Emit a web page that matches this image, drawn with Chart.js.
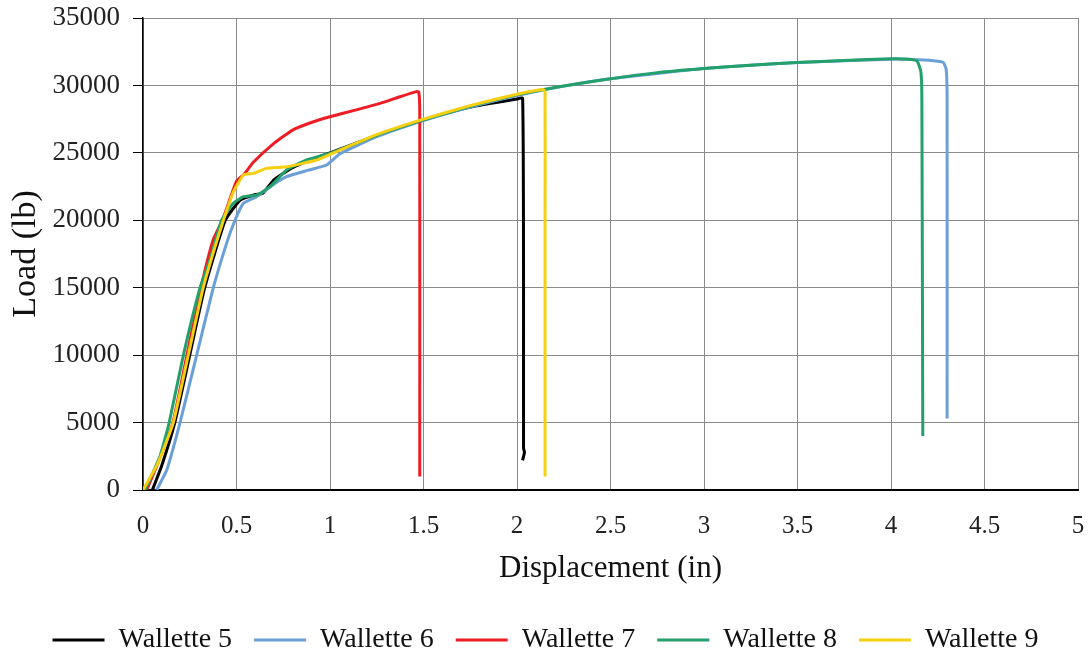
<!DOCTYPE html>
<html lang="en">
<head>
  <meta charset="UTF-8">
  <title>Load vs Displacement</title>
  <script src="https://cdn.jsdelivr.net/npm/chart.js"></script>
  <style>
    html, body { margin: 0; padding: 0; background: #fff; }
    #wrap { width: 1091px; height: 664px; }
  </style>
</head>
<body>
<div id="wrap"><canvas id="grafico" width="1091" height="664"></canvas></div>
<script>
  // series (displacement in, load lb)
  const labels = ['Wallette 5', 'Wallette 6', 'Wallette 7', 'Wallette 8', 'Wallette 9'];

  const w5x = [0.05, 0.1, 0.17, 0.25, 0.33, 0.44, 0.52, 0.6, 0.64, 0.7, 0.8, 0.9, 1.0, 1.25, 1.5, 1.75, 2.0, 2.03, 2.035, 2.035, 2.04, 2.03];
  const w5y = [0, 1800, 5000, 10000, 15000, 20000, 21500, 21900, 22000, 23000, 23900, 24500, 25000, 26300, 27450, 28400, 29000, 29050, 15000, 3100, 2800, 2200];

  const w6x = [0.073, 0.127, 0.198, 0.287, 0.376, 0.447, 0.492, 0.537, 0.607, 0.68, 0.768, 0.88, 0.982, 1.05, 1.25, 1.5, 1.75, 2.0, 2.25, 2.5, 3.0, 3.5, 4.0, 4.15, 4.25, 4.28, 4.295, 4.3, 4.3];
  const w6y = [0, 1480, 5000, 10000, 15000, 18290, 20000, 21260, 21750, 22490, 23230, 23700, 24100, 24900, 26200, 27400, 28400, 29250, 29950, 30500, 31250, 31700, 31950, 31900, 31800, 31700, 31200, 29000, 5300];

  const w7x = [0.02, 0.08, 0.16, 0.235, 0.31, 0.375, 0.425, 0.5, 0.54, 0.59, 0.7, 0.8, 0.9, 1.0, 1.13, 1.267, 1.374, 1.463, 1.475, 1.48, 1.48];
  const w7y = [0, 2000, 5000, 10000, 15000, 18540, 20000, 22900, 23400, 24300, 25700, 26690, 27250, 27680, 28150, 28670, 29160, 29540, 29500, 28000, 1000];

  const w8x = [0.01, 0.09, 0.14, 0.216, 0.305, 0.358, 0.42, 0.483, 0.537, 0.607, 0.68, 0.768, 0.875, 1.0, 1.25, 1.5, 1.75, 2.0, 2.25, 2.5, 2.75, 3.0, 3.25, 3.5, 3.75, 4.0, 4.1, 4.14, 4.16, 4.165, 4.17];
  const w8y = [0, 2470, 5000, 10000, 15000, 17050, 20000, 21260, 21750, 21870, 22490, 23730, 24470, 24970, 26300, 27450, 28450, 29300, 29950, 30500, 30950, 31250, 31500, 31700, 31850, 31980, 31950, 31800, 31000, 29000, 4000];

  const w9x = [0.0, 0.08, 0.162, 0.242, 0.322, 0.38, 0.43, 0.48, 0.537, 0.59, 0.66, 0.768, 0.93, 1.053, 1.25, 1.5, 1.75, 2.0, 2.14, 2.15, 2.15, 2.15];
  const w9y = [0, 2000, 5000, 10000, 15000, 17800, 20000, 22000, 23360, 23480, 23850, 23970, 24470, 25210, 26350, 27500, 28500, 29350, 29700, 29500, 20000, 1000];

  const xTicks = [0, 0.5, 1, 1.5, 2, 2.5, 3, 3.5, 4, 4.5, 5];
  const yTicks = [0, 5000, 10000, 15000, 20000, 25000, 30000, 35000];

  const cores = ['#000000', '#6a9fd8', '#ee1c25', '#23a06c', '#f5cf10'];
  // later series sit on top, as in the original
  const ordem = [4, 3, 2, 1, 0];

  function pontos(xs, ys) {
    return xs.map((x, i) => ({ x: x, y: ys[i] }));
  }

  const series = [pontos(w5x, w5y), pontos(w6x, w6y), pontos(w7x, w7y), pontos(w8x, w8y), pontos(w9x, w9y)];

  const dados = {
    datasets: series.map((s, i) => ({
      label: labels[i],
      data: s,
      borderColor: cores[i],
      backgroundColor: cores[i],
      borderWidth: 3,
      showLine: true,
      pointRadius: 0,
      tension: 0.15,
      order: ordem[i]
    }))
  };

  const fonte = 'Liberation Serif';

  const config = {
    type: 'scatter',
    data: dados,
    options: {
      responsive: false,
      animation: false,
      layout: { padding: 0 },
      plugins: {
        tooltip: { enabled: false },
        legend: {
          position: 'bottom',
          labels: {
            usePointStyle: true,
            pointStyle: 'line',
            pointStyleWidth: 52,
            padding: 22,
            color: '#111',
            font: { family: fonte, size: 28 },
            sort: (a, b) => a.datasetIndex - b.datasetIndex
          }
        }
      },
      scales: {
        x: {
          type: 'linear',
          min: 0,
          max: 5,
          afterBuildTicks: (scale) => { scale.ticks = xTicks.map(v => ({ value: v })); },
          afterFit: (scale) => {
            scale.height = 114;
            scale.paddingLeft = 0;
            scale.paddingRight = 13;
          },
          ticks: {
            color: '#222',
            padding: 21,
            font: { family: fonte, size: 25 },
            callback: (v) => String(v)
          },
          grid: { color: '#8a8a8a', lineWidth: 1, drawTicks: false },
          border: { color: '#000', width: 2 },
          title: {
            display: true,
            text: 'Displacement (in)',
            color: '#111',
            padding: { top: 4, bottom: 17 },
            font: { family: fonte, size: 31 }
          }
        },
        y: {
          min: 0,
          max: 35000,
          afterBuildTicks: (scale) => { scale.ticks = yTicks.map(v => ({ value: v })); },
          afterFit: (scale) => {
            scale.width = 143;
            scale.paddingTop = 18;
            scale.paddingBottom = 0;
          },
          ticks: {
            color: '#222',
            padding: 13,
            font: { family: fonte, size: 27 },
            callback: (v) => String(v)
          },
          grid: { color: '#8a8a8a', lineWidth: 1, tickLength: 10, tickColor: '#000' },
          border: { color: '#000', width: 1.5 },
          title: {
            display: true,
            text: 'Load (lb)',
            color: '#111',
            padding: { top: 6, bottom: 4 },
            font: { family: fonte, size: 34 }
          }
        }
      }
    }
  };

  new Chart(document.getElementById('grafico').getContext('2d'), config);
</script>
</body>
</html>
